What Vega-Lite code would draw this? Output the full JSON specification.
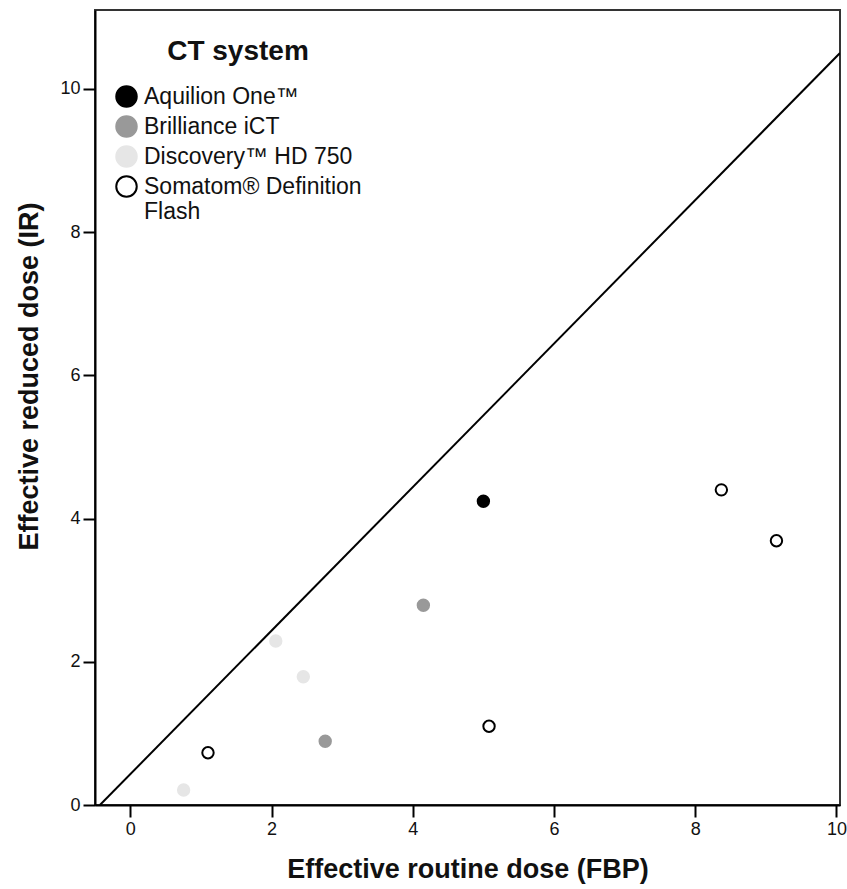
{
  "$schema": "https://vega.github.io/schema/vega-lite/v6.json",
  "width": 745,
  "height": 795,
  "autosize": "none",
  "padding": {"left": 95, "top": 10, "right": 7, "bottom": 84},
  "background": "white",
  "config": {
    "font": "Liberation Sans",
    "view": {"stroke": "#333333", "strokeWidth": 2},
    "axis": {
      "domainColor": "#000000",
      "domainWidth": 2,
      "tickColor": "#000000",
      "tickWidth": 2,
      "tickSize": 12,
      "grid": false,
      "labelFont": "Liberation Sans",
      "labelFontSize": 18,
      "labelColor": "#111111",
      "labelPadding": 3,
      "format": "d",
      "titleFont": "Liberation Sans",
      "titleFontSize": 27,
      "titleFontWeight": "bold",
      "titleColor": "#111111"
    }
  },
  "layer": [
    {
      "data": {"values": [{"fbp": -0.43, "ir": 0}, {"fbp": 10.05, "ir": 10.5}]},
      "mark": {"type": "line", "color": "#000000", "strokeWidth": 2, "clip": true},
      "encoding": {
        "x": {"field": "fbp", "type": "quantitative"},
        "y": {"field": "ir", "type": "quantitative"}
      }
    },
    {
      "data": {
        "values": [
          {"system": "Aquilion One™", "fbp": 5.0, "ir": 4.24},
          {"system": "Brilliance iCT", "fbp": 4.15, "ir": 2.79},
          {"system": "Brilliance iCT", "fbp": 2.76, "ir": 0.89},
          {"system": "Discovery™ HD 750", "fbp": 2.06, "ir": 2.29},
          {"system": "Discovery™ HD 750", "fbp": 2.45, "ir": 1.79},
          {"system": "Discovery™ HD 750", "fbp": 0.755, "ir": 0.21},
          {"system": "Somatom® Definition Flash", "fbp": 1.1, "ir": 0.73},
          {"system": "Somatom® Definition Flash", "fbp": 5.08, "ir": 1.1},
          {"system": "Somatom® Definition Flash", "fbp": 8.37, "ir": 4.4},
          {"system": "Somatom® Definition Flash", "fbp": 9.15, "ir": 3.69}
        ]
      },
      "mark": {"type": "point", "filled": true, "size": 130, "strokeWidth": 2, "opacity": 1},
      "encoding": {
        "x": {
          "field": "fbp",
          "type": "quantitative",
          "title": "Effective routine dose (FBP)",
          "scale": {"domain": [-0.5, 10.05], "nice": false, "zero": false},
          "axis": {"values": [0, 2, 4, 6, 8, 10], "titlePadding": 18}
        },
        "y": {
          "field": "ir",
          "type": "quantitative",
          "title": "Effective reduced dose (IR)",
          "scale": {"domain": [0, 11.1], "nice": false},
          "axis": {"values": [0, 2, 4, 6, 8, 10], "titlePadding": 16, "titleY": 366}
        },
        "fill": {
          "field": "system",
          "type": "nominal",
          "title": "CT system",
          "scale": {
            "domain": ["Aquilion One™", "Brilliance iCT", "Discovery™ HD 750", "Somatom® Definition Flash"],
            "range": ["#000000", "#999999", "#e6e6e6", "#ffffff"]
          },
          "legend": {
            "orient": "none",
            "legendX": 20,
            "legendY": 28,
            "titleFontSize": 28,
            "titleFontWeight": "bold",
            "titleColor": "#111111",
            "titleAnchor": "middle",
            "titlePadding": 19,
            "labelFontSize": 23,
            "labelColor": "#111111",
            "labelLimit": 0,
            "symbolSize": 420,
            "symbolStrokeWidth": 2,
            "symbolType": "circle",
            "rowPadding": 1,
            "labelOffset": 6,
            "labelExpr": "datum.label == 'Somatom® Definition Flash' ? ['Somatom® Definition', 'Flash'] : datum.label",
            "encoding": {
              "labels": {"update": {"lineHeight": {"value": 25}}},
              "title": {"update": {"dx": {"value": 9}}}
            }
          }
        },
        "stroke": {
          "field": "system",
          "type": "nominal",
          "title": "CT system",
          "scale": {
            "domain": ["Aquilion One™", "Brilliance iCT", "Discovery™ HD 750", "Somatom® Definition Flash"],
            "range": ["#000000", "#999999", "#e6e6e6", "#000000"]
          }
        }
      }
    }
  ]
}
